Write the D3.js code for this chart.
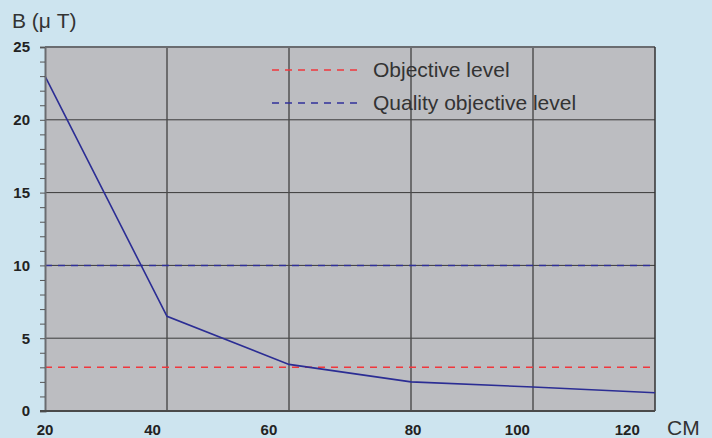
<!DOCTYPE html>
<html>
<head>
<meta charset="utf-8">
<script src="https://cdn.jsdelivr.net/npm/d3@7"></script>
<style>
  body { margin: 0; background: #cde4ef; }
  svg { display: block; font-family: "Liberation Sans", Arial, sans-serif; }
</style>
</head>
<body>
<script>
// Chart size and plot margins
var w = 712;
var h = 438;
var margin = { top: 47, right: 57, bottom: 27, left: 45 };

// Data
var distances = [20, 42.7, 63.4, 79.6, 103, 125];   // cm, one per grid line
var fieldValues = [23, 6.5, 3.2, 2.0, 1.65, 1.25];   // B in micro tesla
var xTickLabels = [20, 40, 60, 80, 100, 120];
var yTickLabels = [0, 5, 10, 15, 20, 25];
var levelNames = ["Objective level", "Quality objective level"];
var levelValues = [3, 10];
var levelColors = ["#f0373c", "#30309a"];

var iw = w - margin.left - margin.right;
var ih = h - margin.top - margin.bottom;

var svg = d3.select("body")
    .append("svg")
    .attr("width", w)
    .attr("height", h);

var g = svg.append("g")
    .attr("transform", "translate(" + margin.left + "," + margin.top + ")");

// Category style axis: each measured distance sits on an equally spaced grid line
var x = d3.scaleLinear()
    .domain(distances)
    .range(distances.map(function(d, i) { return i * iw / (distances.length - 1); }));

var y = d3.scaleLinear()
    .domain([0, 25])
    .range([ih, 0]);

// Plot background
g.append("rect")
    .attr("width", iw)
    .attr("height", ih)
    .attr("fill", "#bcbdc1");

// Horizontal grid lines
g.selectAll(".hgrid")
    .data(yTickLabels.slice(1, -1))
    .enter()
    .append("line")
    .attr("x1", 0)
    .attr("x2", iw)
    .attr("y1", function(d) { return y(d); })
    .attr("y2", function(d) { return y(d); })
    .attr("stroke", "#3a3a3a")
    .attr("stroke-width", 1);

// Vertical grid lines at the data positions
g.selectAll(".vgrid")
    .data(distances.slice(1, -1))
    .enter()
    .append("line")
    .attr("x1", function(d) { return x(d); })
    .attr("x2", function(d) { return x(d); })
    .attr("y1", 0)
    .attr("y2", ih)
    .attr("stroke", "#4a4a4a")
    .attr("stroke-width", 1.4);

// Plot frame: top and right edges
g.append("line")
    .attr("x1", 0).attr("x2", iw).attr("y1", 0).attr("y2", 0)
    .attr("stroke", "#6a6c70").attr("stroke-width", 2);
g.append("line")
    .attr("x1", iw).attr("x2", iw).attr("y1", 0).attr("y2", ih)
    .attr("stroke", "#333").attr("stroke-width", 1.5);

// Reference levels
g.selectAll(".level")
    .data(levelValues)
    .enter()
    .append("line")
    .attr("x1", 0)
    .attr("x2", iw)
    .attr("y1", function(d) { return y(d); })
    .attr("y2", function(d) { return y(d); })
    .attr("stroke", function(d, i) { return levelColors[i]; })
    .attr("stroke-width", 1.5)
    .attr("stroke-dasharray", "7,6");

// Measured field line
var line = d3.line()
    .x(function(d, i) { return x(distances[i]); })
    .y(function(d) { return y(d); });

g.append("path")
    .datum(fieldValues)
    .attr("d", line)
    .attr("fill", "none")
    .attr("stroke", "#2b2d94")
    .attr("stroke-width", 1.6);

// Y axis with minor ticks every unit
var yAxis = g.append("g")
    .call(d3.axisLeft(y).tickValues(d3.range(0, 26, 1)).tickSize(5).tickFormat(function(d) {
        return yTickLabels.indexOf(d) >= 0 ? d : "";
    }));
yAxis.select(".domain").attr("stroke", "#6a6c70").attr("stroke-width", 2);
yAxis.selectAll(".tick line").attr("stroke", "#555");
yAxis.selectAll(".tick text")
    .attr("x", -15)
    .attr("fill", "#222")
    .style("font-size", "15px")
    .style("font-weight", "bold");

// Bottom axis line
g.append("line")
    .attr("x1", -5).attr("x2", iw).attr("y1", ih).attr("y2", ih)
    .attr("stroke", "#4a4a4a").attr("stroke-width", 2);

// X tick labels
g.selectAll(".xlabel")
    .data(xTickLabels)
    .enter()
    .append("text")
    .attr("x", function(d) { return x(d); })
    .attr("y", ih + 24)
    .attr("text-anchor", "middle")
    .attr("fill", "#222")
    .style("font-size", "15px")
    .style("font-weight", "bold")
    .text(function(d) { return d; });

// Axis titles
svg.append("text")
    .attr("x", 12)
    .attr("y", 28)
    .attr("fill", "#333")
    .style("font-size", "21px")
    .text("B (\u03bc T)");

svg.append("text")
    .attr("x", 667)
    .attr("y", 435)
    .attr("fill", "#333")
    .style("font-size", "21px")
    .text("CM");

// Legend
var legend = g.selectAll(".legend")
    .data(levelNames)
    .enter()
    .append("g")
    .attr("transform", function(d, i) { return "translate(227," + (23 + i * 33) + ")"; });

legend.append("line")
    .attr("x1", 0)
    .attr("x2", 87)
    .attr("stroke", function(d, i) { return levelColors[i]; })
    .attr("stroke-width", 1.5)
    .attr("stroke-dasharray", "7,6");

legend.append("text")
    .attr("x", 101)
    .attr("y", 7)
    .attr("fill", "#333")
    .style("font-size", "21px")
    .text(function(d) { return d; });
</script>
</body>
</html>
